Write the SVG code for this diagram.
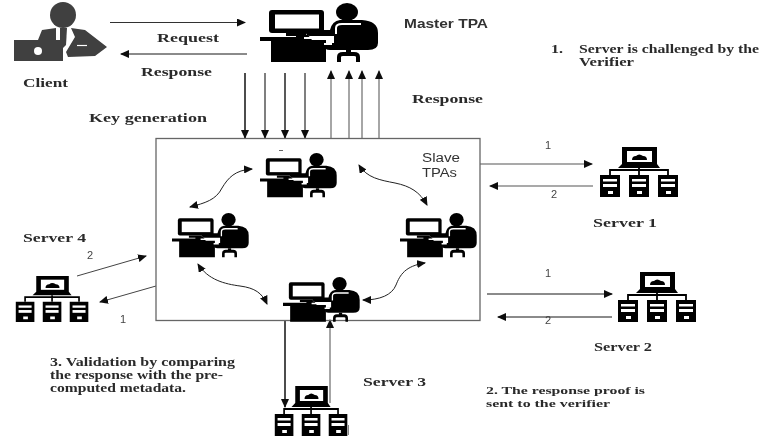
<svg xmlns="http://www.w3.org/2000/svg" xmlns:xlink="http://www.w3.org/1999/xlink" width="760" height="437" viewBox="0 0 760 437">
<style>
.t{font-family:"Liberation Serif","Times New Roman",serif;font-weight:bold;font-size:12.5px;fill:#2a2a2a}
.u{font-size:11.4px}
.s{font-family:"Liberation Sans",Arial,sans-serif;font-weight:bold;font-size:12px;fill:#333}
.n{font-family:"Liberation Sans",Arial,sans-serif;font-size:11px;fill:#444;text-anchor:middle}
.d{stroke:#111;stroke-width:1.5;fill:none}
.l{stroke:#333;stroke-width:1;fill:none}
.g{stroke:#888;stroke-width:1.5;fill:none}
.c{stroke:#222;stroke-width:1;fill:none;marker-start:url(#a);marker-end:url(#a)}
.a{marker-end:url(#a)}
</style>
<defs>
<filter id="b" x="0" y="0" width="100%" height="100%"><feGaussianBlur stdDeviation="0.45"/></filter>
<marker id="a" markerUnits="userSpaceOnUse" markerWidth="10" markerHeight="8" refX="8" refY="4" orient="auto-start-reverse"><path d="M0,0 L9,4 L0,8 Z" fill="#111"/></marker>
<symbol id="tpa" width="118" height="59" viewBox="0 0 118 59" overflow="visible">
<rect x="9" y="7" width="55" height="23" rx="3" fill="#000"/>
<rect x="15" y="11.5" width="44" height="14" fill="#fff"/>
<rect x="26" y="30" width="20" height="3" fill="#000"/>
<path d="M0,34 H36 V32 H48 L52,37 H66 V59 H11 V38 H0 Z" fill="#000"/>
<ellipse cx="87" cy="9" rx="11" ry="9" fill="#000"/>
<path d="M46,27 H70 Q72,18 80,17 H102 Q118,18 118,30 V40 Q118,47 108,47 H70 Q64,47 65,43 Q66,40 72,40 H74 V33 H50 Q45,33 46,27 Z" fill="#000"/>
<path d="M44,35 H71 V41 H64" fill="none" stroke="#fff" stroke-width="2"/>
<path d="M76,31 V25 Q76,21 82,21 H101" fill="none" stroke="#fff" stroke-width="2"/>
<rect x="86" y="47" width="5" height="5" fill="#000"/>
<path d="M79,59 V54 Q79,51 83,51 H94 Q98,51 98,54 V59" fill="none" stroke="#000" stroke-width="4"/>
</symbol>
<symbol id="srv" width="81" height="50" viewBox="0 0 81 50" overflow="visible">
<rect x="25" y="0" width="35" height="18" fill="#000"/>
<rect x="30" y="4" width="25" height="11" fill="#fff"/>
<path d="M35,13 Q35,9 39,9 Q42,6 46,9 Q50,9 50,13 Z" fill="#000"/>
<path d="M25,17 H60 L63,21 H21 Z" fill="#000"/>
<path d="M13,28 V23 H71 V28 M42,21 V28" fill="none" stroke="#000" stroke-width="1.8"/>
<g id="tw">
<rect x="3" y="28" width="20" height="22" fill="#000"/>
<rect x="6" y="32" width="14" height="2.5" fill="#fff"/>
<rect x="6" y="37" width="14" height="3" fill="#fff"/>
<rect x="11" y="44" width="5" height="3" fill="#fff"/>
</g>
<use href="#tw" x="29"/>
<use href="#tw" x="58"/>
</symbol>
</defs>
<rect width="760" height="437" fill="#fff"/>
<g filter="url(#b)">
<g id="connectors">
<path class="l a" d="M110,22.5 H245"/>
<path class="d a" d="M247,54 H121" style="stroke-width:1"/>
<path class="d a" d="M245,73 V138"/>
<path class="g a" d="M265,73 V138" style="stroke:#555"/>
<path class="d a" d="M285,73 V138" style="stroke:#222"/>
<path class="g a" d="M305,73 V138" style="stroke:#555"/>
<path class="g a" d="M331,138 V71"/>
<path class="g a" d="M349,138 V71"/>
<path class="g a" d="M362,138 V71"/>
<path class="g a" d="M379,138 V71"/>
<path class="l a" d="M480,164 H592" style="stroke:#555"/>
<path class="l a" d="M593,186 H490" style="stroke:#555"/>
<path class="l a" d="M487,294 H612" style="stroke:#111"/>
<path class="l a" d="M612,317 H498" style="stroke:#111"/>
<path class="l a" d="M77,276 L146,256" style="stroke:#444"/>
<path class="l a" d="M156,286 L100,302" style="stroke:#444"/>
<path class="d a" d="M285,320 V407"/>
<path class="g a" d="M330,403 V320"/>
<path class="c" d="M252,169 C235,170 228,178 222,188 C216,200 205,203 190,207"/>
<path class="c" d="M359,165 C367,178 380,180 395,183 C410,186 420,192 427,205"/>
<path class="c" d="M425,263 C405,266 400,275 396,285 C392,295 380,300 363,300"/>
<path class="c" d="M198,264 C208,280 225,284 240,286 C255,288 262,293 267,304"/>
<path d="M279,150.5 H283" stroke="#666" stroke-width="1"/>
<path d="M348.5,425 V435" stroke="#888" stroke-width="1"/>
</g>
<g id="slave-box"><rect x="156" y="138.5" width="324" height="182" fill="none" stroke="#666" stroke-width="1.3"/></g>
<g id="client" fill="#3f3f3f">
<circle cx="63" cy="15" r="13"/>
<path d="M38,40 L42,30 L56,28 L56,40 Z"/>
<path d="M60,28 H67 L66,45 L63,48 L60,45 Z"/>
<path d="M71,28 L85,30 L107,47 L95,56 L68,57 L66,52 L75,37 Z"/>
<rect x="14" y="40" width="49" height="21"/>
<circle cx="38" cy="51" r="4" fill="#fff"/>
<path d="M77,45.5 H87" stroke="#fff" stroke-width="1.2"/>
</g>
<g id="master-tpa"><use href="#tpa" transform="translate(260,3)"/></g>
<g id="slave-top"><use href="#tpa" transform="translate(260,153) scale(.65,.75)"/></g>
<g id="slave-left"><use href="#tpa" transform="translate(172,213) scale(.65,.75)"/></g>
<g id="slave-right"><use href="#tpa" transform="translate(400,213) scale(.65,.75)"/></g>
<g id="slave-bottom"><use href="#tpa" transform="translate(283,277) scale(.65,.76)"/></g>
<g id="server-1"><use href="#srv" transform="translate(597,147)"/></g>
<g id="server-2"><use href="#srv" transform="translate(615,272)"/></g>
<g id="server-3"><use href="#srv" transform="translate(272,386) scale(.93,1)"/></g>
<g id="server-4"><use href="#srv" transform="translate(13,276) scale(.93,.92)"/></g>
<g id="labels">
<text class="t" x="157" y="42" textLength="62" lengthAdjust="spacingAndGlyphs">Request</text>
<text class="t" x="141" y="76" textLength="71" lengthAdjust="spacingAndGlyphs">Response</text>
<text class="t" x="23" y="87" textLength="45" lengthAdjust="spacingAndGlyphs">Client</text>
<text class="t" x="89" y="122" textLength="118" lengthAdjust="spacingAndGlyphs">Key generation</text>
<text class="s" x="404" y="28" textLength="84" lengthAdjust="spacingAndGlyphs">Master TPA</text>
<text class="t" x="551" y="53" textLength="12" lengthAdjust="spacingAndGlyphs">1.</text>
<text class="t" x="579" y="53" textLength="180" lengthAdjust="spacingAndGlyphs">Server is challenged by the</text>
<text class="t" x="579" y="66" textLength="55" lengthAdjust="spacingAndGlyphs">Verifier</text>
<text class="t" x="412" y="103" textLength="71" lengthAdjust="spacingAndGlyphs">Response</text>
<text class="s" x="422" y="162" textLength="38" lengthAdjust="spacingAndGlyphs" style="font-weight:normal">Slave</text>
<text class="s" x="422" y="177" textLength="35" lengthAdjust="spacingAndGlyphs" style="font-weight:normal">TPAs</text>
<text class="n" x="548" y="149">1</text>
<text class="n" x="554" y="198">2</text>
<text class="t" x="593" y="227" textLength="64" lengthAdjust="spacingAndGlyphs">Server 1</text>
<text class="n" x="548" y="277">1</text>
<text class="n" x="548" y="324">2</text>
<text class="t" x="594" y="351" textLength="58" lengthAdjust="spacingAndGlyphs">Server 2</text>
<text class="t" x="23" y="242" textLength="63" lengthAdjust="spacingAndGlyphs">Server 4</text>
<text class="n" x="90" y="259">2</text>
<text class="n" x="123" y="323">1</text>
<text class="t" x="50" y="366" textLength="185" lengthAdjust="spacingAndGlyphs">3. Validation by comparing</text>
<text class="t" x="50" y="379" textLength="173" lengthAdjust="spacingAndGlyphs">the response with the pre-</text>
<text class="t" x="50" y="392" textLength="136" lengthAdjust="spacingAndGlyphs">computed metadata.</text>
<text class="t" x="363" y="386" textLength="63" lengthAdjust="spacingAndGlyphs">Server 3</text>
<text class="t u" x="486" y="393.5" textLength="159" lengthAdjust="spacingAndGlyphs">2. The response proof is</text>
<text class="t u" x="486" y="406.5" textLength="124" lengthAdjust="spacingAndGlyphs">sent to the verifier</text>
</g>
</g>
</svg>
